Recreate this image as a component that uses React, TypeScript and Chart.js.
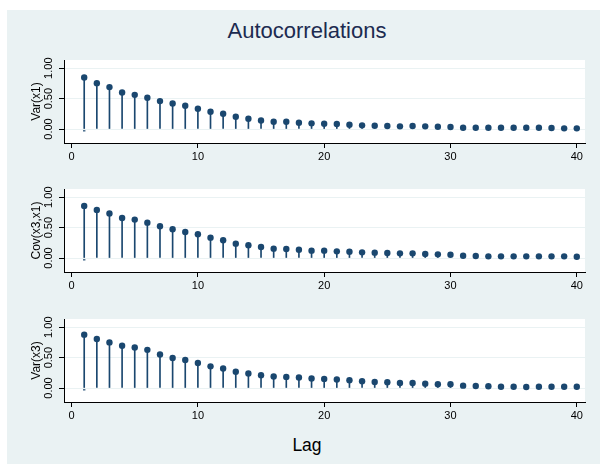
import React, { useEffect, useRef } from 'react';
import { Chart, registerables } from 'chart.js';

Chart.register(...registerables);

const LAGS = [1, 2, 3, 4, 5, 6, 7, 8, 9, 10, 11, 12, 13, 14, 15, 16, 17, 18, 19, 20,
  21, 22, 23, 24, 25, 26, 27, 28, 29, 30, 31, 32, 33, 34, 35, 36, 37, 38, 39, 40];

const VAR_X1 = [0.846, 0.754, 0.689, 0.600, 0.562, 0.513, 0.459, 0.420, 0.382, 0.333,
  0.284, 0.251, 0.202, 0.169, 0.141, 0.120, 0.120, 0.103, 0.093, 0.087,
  0.082, 0.071, 0.060, 0.055, 0.049, 0.044, 0.049, 0.044, 0.038, 0.033,
  0.022, 0.022, 0.022, 0.022, 0.022, 0.022, 0.022, 0.016, 0.011, 0.011];

const COV_X3_X1 = [0.857, 0.791, 0.731, 0.659, 0.632, 0.582, 0.522, 0.473, 0.429, 0.390,
  0.335, 0.291, 0.236, 0.209, 0.181, 0.154, 0.148, 0.137, 0.121, 0.121,
  0.110, 0.104, 0.093, 0.088, 0.082, 0.077, 0.077, 0.066, 0.060, 0.055,
  0.038, 0.033, 0.027, 0.027, 0.027, 0.027, 0.027, 0.027, 0.027, 0.022];

const VAR_X3 = [0.878, 0.806, 0.750, 0.694, 0.667, 0.628, 0.550, 0.494, 0.461, 0.411,
  0.356, 0.322, 0.267, 0.239, 0.211, 0.189, 0.183, 0.172, 0.156, 0.150,
  0.139, 0.128, 0.111, 0.100, 0.094, 0.083, 0.083, 0.072, 0.061, 0.061,
  0.039, 0.033, 0.028, 0.022, 0.022, 0.017, 0.022, 0.022, 0.022, 0.022];

const LAG1_MARK = [-0.03];

const PANEL_LABELS = ['Var(x1)', 'Cov(x3,x1)', 'Var(x3)'];
const X_TICKS = [0, 10, 20, 30, 40];
const Y_TICKS = [0, 0.5, 1];
const Y_TICK_LABELS = ['0.00', '0.50', '1.00'];

const NAVY = '#1a476f';
const BG = '#eaf2f3';
const FONT = "'Liberation Sans', Arial, Helvetica, sans-serif";

Chart.defaults.font.family = FONT;

const plotBg = {
  id: 'plotBg',
  beforeDraw(chart: any) {
    const { ctx, chartArea: a } = chart;
    ctx.save();
    ctx.fillStyle = '#ffffff';
    ctx.fillRect(a.left, a.top, a.right - a.left, a.bottom - a.top);
    ctx.restore();
  },
};

const yTickLabels = {
  id: 'yTickLabels',
  afterDraw(chart: any) {
    const { ctx } = chart;
    const s = chart.scales.y;
    ctx.save();
    ctx.font = `11px ${FONT}`;
    ctx.fillStyle = '#000';
    ctx.textAlign = 'center';
    ctx.textBaseline = 'middle';
    Y_TICKS.forEach((v, i) => {
      const y = s.getPixelForValue(v);
      ctx.save();
      ctx.translate(s.right - 15, y);
      ctx.rotate(-Math.PI / 2);
      ctx.fillText(Y_TICK_LABELS[i], 0, 0);
      ctx.restore();
    });
    ctx.restore();
  },
};

const W = 600;
const PAD_TOP = 8;
const PLOT_H = 83;
const XAXIS_H = 24;
const H = PAD_TOP + PLOT_H + XAXIS_H;

function Panel({ label, values, top }: { label: string; values: number[]; top: number }) {
  const ref = useRef<HTMLCanvasElement | null>(null);
  useEffect(() => {
    if (!ref.current) return;
    const chart = new Chart(ref.current, {
      type: 'bar',
      data: {
        datasets: [
          {
            type: 'line',
            data: LAGS.map((x, i) => ({ x, y: values[i] })),
            showLine: false,
            pointRadius: 3.2,
            pointBackgroundColor: NAVY,
            pointBorderColor: NAVY,
            pointBorderWidth: 0,
            order: 0,
          } as any,
          {
            type: 'line',
            data: [{ x: LAGS[0], y: LAG1_MARK[0] }],
            showLine: false,
            pointStyle: 'line',
            pointRadius: 1.2,
            pointBorderColor: NAVY,
            pointBorderWidth: 1.2,
            order: 0,
          } as any,
          {
            type: 'bar',
            data: LAGS.map((x, i) => ({ x, y: values[i] })),
            backgroundColor: NAVY,
            borderWidth: 0,
            barThickness: 1,
            order: 1,
          } as any,
        ],
      },
      options: {
        animation: false,
        responsive: false,
        events: [],
        layout: { padding: { top: PAD_TOP, right: 15, left: 0, bottom: 0 } },
        plugins: { legend: { display: false }, tooltip: { enabled: false }, title: { display: false } },
        scales: {
          x: {
            type: 'linear',
            min: -0.6,
            max: 40.65,
            offset: false,
            afterBuildTicks: (s: any) => { s.ticks = X_TICKS.map((v) => ({ value: v })); },
            afterFit: (s: any) => { s.height = XAXIS_H; },
            grid: { offset: false, drawOnChartArea: false, drawTicks: true, tickLength: 5, tickColor: '#000', tickWidth: 1 },
            border: { display: true, color: '#000', width: 1 },
            ticks: { font: { size: 11 }, color: '#000', padding: 2, maxRotation: 0, autoSkip: false, callback: (v: any) => String(v) },
          },
          y: {
            type: 'linear',
            min: -0.23,
            max: 1.135,
            afterBuildTicks: (s: any) => { s.ticks = Y_TICKS.map((v) => ({ value: v })); },
            afterFit: (s: any) => { s.width = 64; },
            grid: { offset: false, color: BG, lineWidth: 1, drawTicks: true, tickLength: 5, tickColor: '#000', tickWidth: 1 },
            border: { display: true, color: '#000', width: 1 },
            ticks: { display: false },
            title: { display: true, text: label, font: { size: 12 }, color: '#000', padding: { top: 29.5, bottom: 0 } },
          },
        },
      } as any,
      plugins: [plotBg, yTickLabels],
    });
    return () => chart.destroy();
  }, [label, values]);
  return (
    <canvas
      ref={ref}
      width={W}
      height={H}
      style={{ position: 'absolute', left: 0, top: top - PAD_TOP, width: W, height: H }}
    />
  );
}

export default function App() {
  const series = [VAR_X1, COV_X3_X1, VAR_X3];
  const tops = [60, 189, 319];
  return (
    <div style={{ position: 'absolute', left: 0, top: 0, width: 600, height: 464, background: '#ffffff', overflow: 'hidden' }}>
      <div style={{ position: 'absolute', left: 7, top: 10, width: 593, height: 454, background: BG }} />
      <div
        style={{
          position: 'absolute', left: 157, top: 19.7, width: 300, textAlign: 'center',
          fontFamily: FONT, fontSize: 22, lineHeight: '22px', color: '#1c2b50', whiteSpace: 'nowrap',
        }}
      >
        Autocorrelations
      </div>
      {series.map((vals, i) => (
        <Panel key={i} label={PANEL_LABELS[i]} values={vals} top={tops[i]} />
      ))}
      <div
        style={{
          position: 'absolute', left: 207, top: 437, width: 200, textAlign: 'center',
          fontFamily: FONT, fontSize: 17.5, lineHeight: '17.5px', color: '#000', whiteSpace: 'nowrap',
        }}
      >
        Lag
      </div>
    </div>
  );
}
